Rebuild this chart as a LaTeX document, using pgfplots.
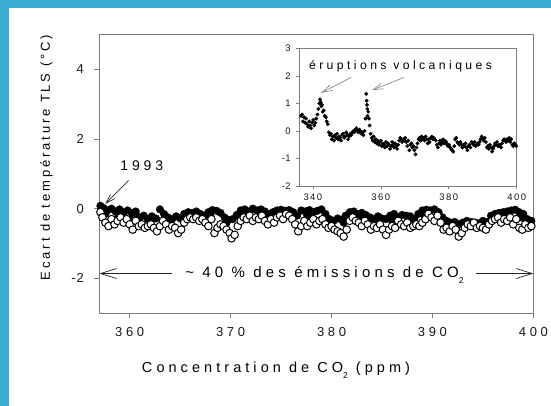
\documentclass[border=0pt]{standalone}
\usepackage{pgfplots}
\pgfplotsset{compat=1.18}
\usepackage{fontspec}
\setmainfont[LetterSpace=28]{Liberation Sans}
\newfontfamily\ylabfont[LetterSpace=22]{Liberation Sans}
\newfontfamily\insetfont[LetterSpace=15]{Liberation Sans}
\newfontfamily\plainfont{Liberation Sans}
\usetikzlibrary{arrows.meta}
\definecolor{frameblue}{RGB}{59,172,212}
\definecolor{axgray}{RGB}{125,125,125}
\newcommand{\sub}[1]{\raisebox{-0.4em}{\fontsize{8.5}{8.5}\selectfont #1}}
\begin{document}
\begin{tikzpicture}
\fill[white] (0,0) rectangle (551pt,406pt);
\fill[frameblue] (0,0) rectangle (9pt,406pt);
\fill[frameblue] (0,398pt) rectangle (551pt,406pt);
\begin{axis}[at={(99.4pt,92.7pt)}, anchor=south west, scale only axis,
  width=434pt, height=279pt,
  xmin=357, xmax=400, ymin=-3, ymax=5, clip=false,
  xtick={360,370,380,390,400}, xticklabels={360,370,380,390,400},
  ytick={-2,0,2,4}, yticklabels={{\plainfont -\kern1pt 2},0,2,4},
  tick align=outside, tick pos=left, major tick length=5pt,
  axis line style={axgray, line width=0.8pt},
  every tick/.style={axgray, line width=0.8pt},
  ticklabel style={font=\fontsize{13}{15}\selectfont, text=black!90},
  xticklabel style={yshift=-6pt}, yticklabel style={xshift=-7pt},
  xlabel={Concentration de CO\sub{2} (ppm)},
  ylabel={\ylabfont Ecart de température TLS (°C)},
  every axis x label/.style={at={(axis description cs:0.407,0)}, yshift=-57pt, anchor=center, font=\fontsize{14.5}{16}\selectfont},
  every axis y label/.style={at={(axis description cs:0,0.558)}, xshift=-53pt, anchor=center, rotate=90, font=\fontsize{13}{15}\selectfont},
]
\addplot[only marks, mark=*, mark size=3.8pt, mark options={fill=black, draw=black}] coordinates {
(357.1,0.08)(357.4,0.02)(357.8,-0.05)(358.2,0.0)(358.6,-0.08)(359.0,-0.02)(359.4,-0.1)(359.8,-0.05)
(360.2,-0.12)(360.6,-0.08)(361.0,-0.25)(361.4,-0.2)(361.8,-0.3)(362.2,-0.22)(362.6,-0.28)(363.0,-0.02)
(363.4,-0.15)(363.8,-0.25)(364.2,-0.3)(364.6,-0.22)(365.0,-0.28)(365.4,-0.15)(365.8,-0.1)(366.2,-0.12)
(366.6,-0.08)(367.0,-0.15)(367.4,-0.2)(367.8,-0.1)(368.2,-0.04)(368.6,-0.06)(369.0,-0.12)(369.4,-0.25)
(369.8,-0.32)(370.2,-0.3)(370.6,-0.18)(371.0,-0.05)(371.4,-0.02)(371.8,-0.08)(372.2,0.0)(372.6,-0.05)
(373.0,-0.02)(373.4,-0.08)(373.8,-0.15)(374.2,-0.1)(374.6,-0.05)(375.0,-0.03)(375.4,-0.06)(375.8,-0.04)
(376.2,-0.1)(376.6,-0.2)(377.0,-0.05)(377.4,-0.08)(377.8,-0.04)(378.2,-0.1)(378.6,-0.06)(379.0,-0.02)
(379.4,-0.15)(379.8,-0.3)(380.2,-0.35)(380.6,-0.28)(381.0,-0.32)(381.4,-0.2)(381.8,-0.1)(382.2,-0.08)
(382.6,-0.15)(383.0,-0.12)(383.4,-0.18)(383.8,-0.25)(384.2,-0.3)(384.6,-0.22)(385.0,-0.28)(385.4,-0.3)
(385.8,-0.2)(386.2,-0.15)(386.6,-0.25)(387.0,-0.18)(387.4,-0.2)(387.8,-0.22)(388.2,-0.3)(388.6,-0.15)
(389.0,-0.05)(389.4,-0.03)(389.8,-0.05)(390.2,-0.02)(390.6,-0.1)(391.0,-0.25)(391.4,-0.35)(391.8,-0.4)
(392.2,-0.38)(392.6,-0.45)(393.0,-0.4)(393.4,-0.35)(393.8,-0.38)(394.2,-0.4)(394.6,-0.42)(395.0,-0.35)
(395.4,-0.38)(395.8,-0.2)(396.2,-0.15)(396.6,-0.12)(397.0,-0.1)(397.4,-0.08)(397.8,-0.05)(398.2,-0.03)
(398.6,-0.1)(399.0,-0.15)(399.4,-0.3)(399.8,-0.35)
(357.6,-0.15)(358.9,-0.2)(360.4,-0.25)(362.0,-0.35)(364.0,-0.4)(366.0,-0.25)(368.0,-0.2)(369.6,-0.4)
(371.2,-0.18)(372.8,-0.2)(374.4,-0.2)(376.0,-0.18)(377.6,-0.2)(379.6,-0.4)(381.2,-0.4)(382.8,-0.3)
(384.4,-0.4)(386.0,-0.35)(387.6,-0.35)(389.2,-0.2)(390.8,-0.3)(392.4,-0.5)(394.0,-0.5)(395.6,-0.45)
(397.2,-0.22)(398.8,-0.25)
};
\addplot[only marks, mark=*, mark size=3.8pt, mark options={fill=white, draw=black, line width=1pt}] coordinates {
(357.1,-0.1)(357.3,-0.25)(357.6,-0.4)(357.9,-0.5)(358.2,-0.3)(358.5,-0.45)(358.8,-0.35)(359.1,-0.25)
(359.4,-0.4)(359.7,-0.3)(360.0,-0.45)(360.3,-0.6)(360.6,-0.35)(360.9,-0.5)(361.2,-0.45)(361.5,-0.55)
(361.8,-0.5)(362.1,-0.45)(362.4,-0.55)(362.7,-0.65)(363.0,-0.5)(363.3,-0.35)(363.6,-0.45)(363.9,-0.6)
(364.2,-0.5)(364.5,-0.55)(364.8,-0.7)(365.1,-0.6)(365.4,-0.4)(365.7,-0.3)(366.0,-0.25)(366.3,-0.3)
(366.6,-0.25)(366.9,-0.35)(367.2,-0.3)(367.5,-0.4)(367.8,-0.5)(368.1,-0.3)(368.4,-0.7)(368.7,-0.55)
(369.0,-0.45)(369.3,-0.5)(369.6,-0.6)(369.9,-0.7)(370.1,-0.85)(370.4,-0.75)(370.7,-0.5)(371.0,-0.35)
(371.3,-0.25)(371.6,-0.3)(371.9,-0.2)(372.2,-0.35)(372.5,-0.25)(372.8,-0.3)(373.1,-0.2)(373.4,-0.35)
(373.7,-0.45)(374.0,-0.3)(374.3,-0.4)(374.6,-0.25)(374.9,-0.2)(375.2,-0.3)(375.5,-0.15)(375.8,-0.2)
(376.1,-0.3)(376.4,-0.45)(376.7,-0.65)(377.0,-0.5)(377.3,-0.35)(377.6,-0.5)(377.9,-0.4)(378.2,-0.3)
(378.5,-0.45)(378.8,-0.35)(379.1,-0.3)(379.4,-0.45)(379.7,-0.55)(380.0,-0.5)(380.3,-0.6)(380.6,-0.65)
(380.9,-0.7)(381.2,-0.8)(381.5,-0.6)(381.8,-0.35)(382.1,-0.25)(382.4,-0.35)(382.7,-0.4)(383.0,-0.5)
(383.3,-0.35)(383.6,-0.45)(383.9,-0.6)(384.2,-0.5)(384.5,-0.55)(384.8,-0.45)(385.1,-0.6)(385.4,-0.75)
(385.7,-0.6)(386.0,-0.5)(386.3,-0.55)(386.6,-0.35)(386.9,-0.45)(387.2,-0.5)(387.5,-0.4)(387.8,-0.55)
(388.1,-0.5)(388.4,-0.45)(388.7,-0.5)(389.0,-0.4)(389.3,-0.3)(389.6,-0.15)(389.9,-0.25)(390.2,-0.35)
(390.5,-0.2)(390.8,-0.4)(391.1,-0.6)(391.4,-0.55)(391.7,-0.65)(392.0,-0.5)(392.3,-0.6)(392.6,-0.8)
(392.9,-0.7)(393.2,-0.55)(393.5,-0.45)(393.8,-0.5)(394.1,-0.4)(394.4,-0.55)(394.7,-0.5)(395.0,-0.55)
(395.3,-0.6)(395.6,-0.45)(395.9,-0.35)(396.2,-0.3)(396.5,-0.25)(396.8,-0.4)(397.1,-0.3)(397.4,-0.35)
(397.7,-0.25)(398.0,-0.45)(398.3,-0.3)(398.6,-0.55)(398.9,-0.6)(399.2,-0.45)(399.5,-0.55)(399.8,-0.5)
};
\node[font=\fontsize{14}{16}\selectfont] at (axis cs:361.2,1.24) {1993};
\draw[black!85, line width=0.7pt, -{Straight Barb[length=9pt,width=6pt]}] (axis cs:359.9,0.81) -- (axis cs:357.6,0.14);
\node[font=\fontsize{15}{17}\selectfont, fill=white, inner sep=1pt] (pct) at (axis cs:379.3,-1.9) {\textasciitilde{} 40 \% des émissions de CO\sub{2}};
\draw[black!85, line width=0.7pt, -{Straight Barb[length=16pt,width=10pt]}] (axis cs:364.2,-1.86) -- (axis cs:357,-1.86);
\draw[black!85, line width=0.7pt, -{Straight Barb[length=16pt,width=10pt]}] (axis cs:394.3,-1.86) -- (axis cs:400,-1.86);
\end{axis}
\begin{axis}[at={(299.3pt,220pt)}, anchor=south west, scale only axis,
  width=217.4pt, height=137.5pt,
  xmin=336, xmax=400, ymin=-2, ymax=3, clip=false,
  xtick={340,360,380,400}, xticklabels={340,360,380,400},
  ytick={-2,-1,0,1,2,3}, yticklabels={{\plainfont -\kern0.5pt 2},{\plainfont -\kern0.5pt 1},0,1,2,3},
  tick align=outside, tick pos=left, major tick length=3pt,
  axis line style={axgray, line width=0.6pt},
  every tick/.style={axgray, line width=0.6pt},
  ticklabel style={font=\insetfont\fontsize{9.5}{11}\selectfont, text=black!90},
  xticklabel style={yshift=-1pt}, yticklabel style={xshift=-2pt},
]
\addplot[only marks, mark=*, mark size=1.7pt, mark options={fill=black, draw=black}] coordinates {
(336.5,0.55)(336.8,0.6)(337.1,0.35)(337.4,0.5)(337.7,0.3)(338.0,0.45)(338.3,0.25)(338.6,0.15)
(338.9,0.35)(339.2,0.2)(339.5,0.1)(339.8,0.3)(340.1,0.4)(340.4,0.2)(340.7,0.3)(341.0,0.45)
(341.3,0.6)(341.6,0.8)(341.9,1.0)(342.1,1.15)(342.3,1.05)(342.5,0.9)(342.7,0.95)(342.9,0.7)
(343.2,0.75)(343.5,0.55)(343.8,0.5)(344.1,0.35)(344.4,0.25)(344.7,-0.05)(345.0,-0.15)(345.3,-0.1)
(345.6,-0.3)(345.9,-0.2)(346.2,-0.35)(346.5,-0.15)(346.8,-0.25)(347.1,-0.1)(347.4,-0.3)(347.7,-0.2)
(348.0,-0.25)(348.3,-0.35)(348.6,-0.15)(348.9,-0.1)(349.2,-0.25)(349.5,-0.2)(349.8,-0.05)(350.1,-0.15)
(350.4,-0.3)(350.7,-0.2)(351.0,-0.1)(351.3,-0.15)(351.6,-0.05)(351.9,0.0)(352.2,-0.05)(352.5,0.05)
(352.8,0.1)(353.1,0.0)(353.4,-0.05)(353.7,0.05)(354.0,0.0)(354.3,-0.1)(354.6,-0.05)(354.9,-0.15)
(355.2,0.0)(355.5,0.45)(355.7,1.35)(355.8,1.1)(355.9,0.95)(356.0,0.8)(356.1,0.55)(356.3,0.7)
(356.5,0.45)(356.7,0.2)(357.0,-0.1)(357.3,-0.25)(357.6,-0.35)(357.9,-0.2)(358.2,-0.4)(358.5,-0.3)
(358.8,-0.45)(359.1,-0.35)(359.4,-0.5)(359.7,-0.4)(360.0,-0.35)(360.3,-0.55)(360.6,-0.45)(360.9,-0.5)
(361.2,-0.6)(361.5,-0.4)(361.8,-0.55)(362.1,-0.45)(362.4,-0.5)(362.7,-0.65)(363.0,-0.55)(363.3,-0.4)
(363.6,-0.5)(363.9,-0.6)(364.2,-0.45)(364.5,-0.55)(364.8,-0.65)(365.1,-0.5)(365.4,-0.35)(365.7,-0.25)
(366.0,-0.3)(366.3,-0.4)(366.6,-0.3)(366.9,-0.35)(367.2,-0.25)(367.5,-0.4)(367.8,-0.55)(368.1,-0.35)
(368.4,-0.7)(368.7,-0.5)(369.0,-0.45)(369.3,-0.6)(369.6,-0.55)(369.9,-0.7)(370.2,-0.85)(370.5,-0.6)
(370.8,-0.45)(371.1,-0.3)(371.4,-0.25)(371.7,-0.35)(372.0,-0.2)(372.3,-0.3)(372.6,-0.25)(372.9,-0.35)
(373.2,-0.2)(373.5,-0.3)(373.8,-0.45)(374.1,-0.3)(374.4,-0.4)(374.7,-0.25)(375.0,-0.2)(375.3,-0.3)
(375.6,-0.25)(375.9,-0.3)(376.2,-0.35)(376.5,-0.5)(376.8,-0.6)(377.1,-0.45)(377.4,-0.35)(377.7,-0.5)
(378.0,-0.4)(378.3,-0.3)(378.6,-0.45)(378.9,-0.35)(379.2,-0.4)(379.5,-0.5)(379.8,-0.55)(380.1,-0.5)
(380.4,-0.6)(380.7,-0.65)(381.0,-0.7)(381.3,-0.75)(381.6,-0.55)(381.9,-0.3)(382.2,-0.25)(382.5,-0.4)
(382.8,-0.45)(383.1,-0.5)(383.4,-0.4)(383.7,-0.5)(384.0,-0.6)(384.3,-0.5)(384.6,-0.55)(384.9,-0.45)
(385.2,-0.6)(385.5,-0.7)(385.8,-0.55)(386.1,-0.5)(386.4,-0.6)(386.7,-0.4)(387.0,-0.45)(387.3,-0.5)
(387.6,-0.4)(387.9,-0.55)(388.2,-0.5)(388.5,-0.45)(388.8,-0.5)(389.1,-0.4)(389.4,-0.3)(389.7,-0.2)
(390.0,-0.3)(390.3,-0.35)(390.6,-0.25)(390.9,-0.4)(391.2,-0.6)(391.5,-0.55)(391.8,-0.65)(392.1,-0.5)
(392.4,-0.6)(392.7,-0.75)(393.0,-0.65)(393.3,-0.55)(393.6,-0.45)(393.9,-0.5)(394.2,-0.4)(394.5,-0.55)
(394.8,-0.5)(395.1,-0.55)(395.4,-0.6)(395.7,-0.45)(396.0,-0.35)(396.3,-0.3)(396.6,-0.35)(396.9,-0.4)
(397.2,-0.3)(397.5,-0.35)(397.8,-0.25)(398.1,-0.4)(398.4,-0.3)(398.7,-0.5)(399.0,-0.55)(399.3,-0.45)
(399.6,-0.5)(399.9,-0.55)
};
\node[font=\fontsize{12.2}{14}\selectfont] at (axis cs:365.8,2.37) {éruptions volcaniques};
\draw[gray, line width=0.6pt, -{Straight Barb[length=10pt,width=6pt]}] (axis cs:351.3,1.95) -- (axis cs:342.5,1.39);
\draw[gray, line width=0.6pt, -{Straight Barb[length=10pt,width=6pt]}] (axis cs:366.9,1.95) -- (axis cs:357.5,1.49);
\end{axis}
\pgfresetboundingbox
\useasboundingbox (0,0) rectangle (551pt,406pt);
\end{tikzpicture}
\end{document}
